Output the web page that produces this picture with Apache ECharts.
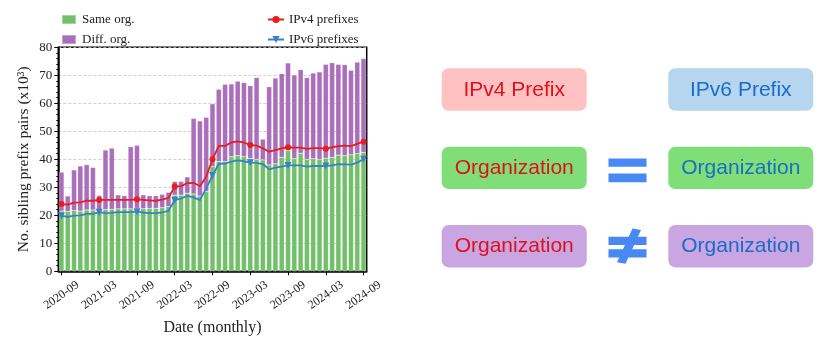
<!DOCTYPE html>
<html>
<head>
<meta charset="utf-8">
<script src="https://cdn.jsdelivr.net/npm/echarts@6/dist/echarts.min.js"></script>
<style>
html,body{margin:0;padding:0;background:#fff;}
#chart{width:828px;height:347px;}
</style>
</head>
<body>
<div id="chart"></div>
<script>
const months = [
  '2020-09','2020-10','2020-11','2020-12','2021-01','2021-02','2021-03','2021-04','2021-05','2021-06','2021-07','2021-08',
  '2021-09','2021-10','2021-11','2021-12','2022-01','2022-02','2022-03','2022-04','2022-05','2022-06','2022-07','2022-08',
  '2022-09','2022-10','2022-11','2022-12','2023-01','2023-02','2023-03','2023-04','2023-05','2023-06','2023-07','2023-08',
  '2023-09','2023-10','2023-11','2023-12','2024-01','2024-02','2024-03','2024-04','2024-05','2024-06','2024-07','2024-08',
  '2024-09'
];
const sameOrg = [
  21.5,21.4,21.7,21.5,21.9,21.9,21.9,22.1,22.1,22.3,22.3,22.3,
  22.5,22.4,22.5,22.5,22.7,23.1,27.2,27.2,27.9,27.6,26.9,28.5,
  37.4,39.2,39.2,40.9,41.3,40.9,40.3,40.0,39.8,38.0,38.4,40.7,
  43.1,40.3,42.1,40.0,40.2,40.0,40.4,40.7,41.5,41.3,41.6,42.0,
  42.5
];
const diffOrg = [
  13.9,5.5,14.5,16.1,16.2,15.2,5.2,21.2,21.9,5.0,4.7,22.2,
  22.5,4.9,4.5,4.5,4.8,5.1,4.9,4.9,5.8,27.0,26.8,26.5,
  22.4,25.8,27.6,26.0,26.6,26.5,26.0,29.2,7.4,27.9,30.6,29.9,
  31.3,29.8,29.9,29.2,30.6,31.2,33.5,33.8,32.4,32.5,30.2,32.7,
  33.5
];
const ipv4 = [
  24.0,23.8,24.5,24.6,25.2,25.2,25.5,25.5,25.5,25.5,25.5,25.5,
  25.7,25.5,25.3,25.2,25.6,26.2,30.3,30.4,31.5,31.6,30.4,33.8,
  40.0,44.8,44.8,46.0,46.4,46.0,45.1,44.9,43.9,42.7,43.3,43.9,
  44.3,44.2,44.2,43.7,44.0,44.0,43.8,44.3,44.7,44.9,44.7,45.5,
  46.3
];
const ipv6 = [
  19.8,19.4,19.9,20.0,20.5,20.5,21.1,20.8,20.9,21.1,21.1,21.1,
  21.3,21.0,20.8,20.8,21.0,21.6,25.4,26.0,26.9,26.4,25.4,29.6,
  34.2,38.4,38.5,39.2,39.6,39.3,38.8,38.7,38.3,36.4,37.0,37.4,
  37.8,37.8,37.8,37.4,37.6,37.6,37.6,37.8,38.3,38.2,38.1,38.8,
  40.0
];
const seriesNames = ['Same org.','Diff. org.','IPv4 prefixes','IPv6 prefixes'];
const markerEvery = 6;

const serif = '"Liberation Serif","DejaVu Serif",serif';
const sans = '"Liberation Sans",Arial,sans-serif';

function markers(arr){
  return arr.map((v,i)=> i % markerEvery === 0 ? v : {value: v, symbol: 'none'});
}

const chart = echarts.init(document.getElementById('chart'), null, {renderer:'canvas'});

function box(x,y,fill,label,color){
  return [
    {type:'rect', shape:{x:x,y:y,width:145,height:42.4,r:7}, style:{fill:fill}, silent:true},
    {type:'text', x:x+72.5, y:y+21.5, style:{text:label, fill:color, font:'21px '+sans, align:'center', verticalAlign:'middle'}, silent:true}
  ];
}
const red = '#e0101a', blu = '#1a6cc6';
const symCol = '#4788f2';
let graphics = [];
graphics = graphics.concat(box(441.7,68.3,'#ffc2c2','IPv4 Prefix',red));
graphics = graphics.concat(box(668.3,68.3,'#b6d5ee','IPv6 Prefix',blu));
graphics = graphics.concat(box(441.7,146.7,'#80de78','Organization',red));
graphics = graphics.concat(box(668.3,146.7,'#80de78','Organization',blu));
graphics = graphics.concat(box(441.7,225,'#c9a5e2','Organization',red));
graphics = graphics.concat(box(668.3,225,'#c9a5e2','Organization',blu));
graphics.push({type:'rect', shape:{x:608.5,y:158.5,width:38,height:8.3}, style:{fill:symCol}, silent:true});
graphics.push({type:'rect', shape:{x:608.5,y:173.6,width:38,height:8.6}, style:{fill:symCol}, silent:true});
graphics.push({type:'rect', shape:{x:608.5,y:236.8,width:38,height:8.3}, style:{fill:symCol}, silent:true});
graphics.push({type:'rect', shape:{x:608.5,y:249.2,width:38,height:8.3}, style:{fill:symCol}, silent:true});
graphics.push({type:'polygon', shape:{points:[[632.5,228.5],[641,230],[625.5,263.8],[617,262.3]]}, style:{fill:symCol}, silent:true});

const option = {
  backgroundColor:'#fff',
  animation:false,
  grid:{left:58.3, right:461.3, top:47.3, bottom:75.7, show:true, borderColor:'#000', borderWidth:1.5, backgroundColor:'transparent'},
  legend:[
    {data:[seriesNames[0],seriesNames[1]], orient:'vertical', left:61, top:13, padding:0, itemWidth:14, itemHeight:9, itemGap:7,
     textStyle:{fontFamily:serif, fontSize:13, color:'#222', padding:[0,0,0,1]}, icon:'rect'},
    {data:[seriesNames[2],seriesNames[3]], orient:'vertical', left:267, top:13, padding:0, itemWidth:16, itemHeight:9, itemGap:7,
     textStyle:{fontFamily:serif, fontSize:13, color:'#222', padding:[0,0,0,0]}}
  ],
  xAxis:{
    type:'category', data:months, boundaryGap:true,
    axisLine:{show:true, lineStyle:{color:'#000', width:1.5}},
    axisTick:{show:true, alignWithLabel:true, interval:markerEvery-1, length:4, lineStyle:{color:'#000', width:1}},
    axisLabel:{interval:markerEvery-1, rotate:35, fontFamily:serif, fontSize:12, color:'#222', margin:24, align:'center', verticalAlign:'middle'},
    name:'Date (monthly)', nameLocation:'middle', nameGap:48,
    nameTextStyle:{fontFamily:serif, fontSize:16, color:'#222', verticalAlign:'top'}
  },
  yAxis:{
    type:'value', min:0, max:80, interval:10,
    axisLine:{show:true, lineStyle:{color:'#000', width:1.5}},
    axisTick:{show:true, length:4, lineStyle:{color:'#000'}},
    minorTick:{show:true, splitNumber:5, length:2, lineStyle:{color:'#000'}},
    axisLabel:{fontFamily:serif, fontSize:13, color:'#222', margin:6},
    splitLine:{show:true, lineStyle:{color:'#c4c4c4', type:[3,2], width:0.8}},
    name:'No. sibling prefix pairs (x10³)', nameLocation:'middle', nameGap:26,
    nameTextStyle:{fontFamily:serif, fontSize:15.5, color:'#222'}
  },
  series:[
    {name:seriesNames[0], type:'bar', stack:'org', data:sameOrg, barCategoryGap:'18%',
     itemStyle:{color:'#73c06a', borderColor:'rgba(255,255,255,0.35)', borderWidth:0.5}, z:2},
    {name:seriesNames[1], type:'bar', stack:'org', data:diffOrg, barCategoryGap:'18%',
     itemStyle:{color:'#aa6eba', borderColor:'rgba(255,255,255,0.35)', borderWidth:0.5}, z:2},
    {name:seriesNames[2], type:'line', data:markers(ipv4), symbol:'circle', symbolSize:6, showSymbol:true, showAllSymbol:true,
     lineStyle:{color:'#ea1d1d', width:1.8}, itemStyle:{color:'#ea1d1d'}, z:5},
    {name:seriesNames[3], type:'line', data:markers(ipv6), symbol:'triangle', symbolRotate:180, symbolSize:7, showSymbol:true, showAllSymbol:true,
     lineStyle:{color:'#3a80c4', width:1.8}, itemStyle:{color:'#3a80c4'}, z:4}
  ],
  graphic: graphics
};
chart.setOption(option);
</script>
</body>
</html>
